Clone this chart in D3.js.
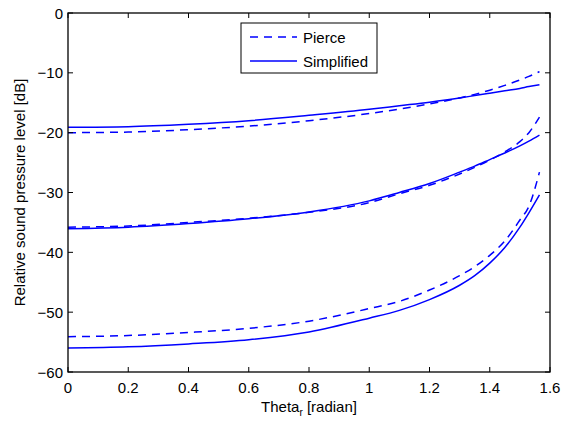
<!DOCTYPE html>
<html lang="en">
<head>
  <meta charset="UTF-8">
  <title>Relative sound pressure level</title>
  <style>
    body { margin: 0; padding: 0; background: #fff; }
    svg { display: block; }
    text { font-family: "Liberation Sans", Arial, sans-serif; fill: #000; }
    .curve { fill: none; stroke: #0000ff; stroke-width: 1.5px; }
    .dashed { stroke-dasharray: 8,6; }
  </style>
</head>
<body>
  <div id="chart"></div>

  <script src="https://d3js.org/d3.v7.min.js"></script>
  <script>
    // angle values (radian)
    var theta = [0, 0.2, 0.4, 0.6, 0.8, 1.0, 1.1, 1.2, 1.3, 1.35, 1.4, 1.45, 1.5, 1.53, 1.565];

    // Pierce (dashed)
    var pierceTop = [-20.0, -19.9, -19.5, -18.9, -18.0, -16.8, -16.05, -15.2, -14.2, -13.6, -12.9, -12.1, -11.2, -10.6, -9.8];
    var pierceMid = [-35.8, -35.6, -35.0, -34.3, -33.3, -31.7, -30.2, -28.8, -26.9, -25.8, -24.6, -23.2, -21.5, -20.0, -17.4];
    var pierceLow = [-54.1, -53.9, -53.4, -52.7, -51.5, -49.4, -48.2, -46.3, -43.9, -42.4, -40.5, -38.1, -34.6, -32.3, -26.6];

    // Simplified (solid)
    var simpTop = [-19.1, -19.0, -18.6, -18.0, -17.1, -16.1, -15.5, -14.9, -14.2, -13.8, -13.4, -13.0, -12.6, -12.3, -12.0];
    var simpMid = [-36.05, -35.8, -35.2, -34.4, -33.25, -31.4, -30.0, -28.5, -26.6, -25.6, -24.5, -23.4, -22.2, -21.4, -20.4];
    var simpLow = [-56.0, -55.8, -55.3, -54.6, -53.3, -51.0, -49.7, -47.9, -45.5, -43.9, -41.8, -39.2, -35.8, -33.4, -30.4];

    var xTicks = [0, 0.2, 0.4, 0.6, 0.8, 1, 1.2, 1.4, 1.6];
    var yTicks = [0, -10, -20, -30, -40, -50, -60];

    var width = 563, height = 421;
    var margin = { left: 68, right: 13, top: 13, bottom: 49 };

    var svg = d3.select("#chart").append("svg")
      .attr("width", width)
      .attr("height", height);

    var x = d3.scaleLinear().domain([0, 1.6]).range([margin.left, width - margin.right]);
    var y = d3.scaleLinear().domain([-60, 0]).range([height - margin.bottom, margin.top]);

    var line = d3.line()
      .x(function(d) { return x(d[0]); })
      .y(function(d) { return y(d[1]); })
      .curve(d3.curveMonotoneX);

    function pairs(vals) {
      return theta.map(function(t, i) { return [t, vals[i]]; });
    }

    // curves
    [pierceTop, pierceMid, pierceLow].forEach(function(s) {
      svg.append("path").attr("class", "curve dashed").attr("d", line(pairs(s)));
    });
    [simpTop, simpMid, simpLow].forEach(function(s) {
      svg.append("path").attr("class", "curve").attr("d", line(pairs(s)));
    });

    // ticks inside the box, on all four sides
    var tl = 5;
    var x0 = x.range()[0], x1 = x.range()[1], y0 = y.range()[0], y1 = y.range()[1];

    var xAxis = svg.append("g").attr("class", "x-axis");
    xTicks.forEach(function(t) {
      xAxis.append("line").attr("x1", x(t)).attr("x2", x(t)).attr("y1", y0).attr("y2", y0 - tl).attr("stroke", "#000");
      xAxis.append("line").attr("x1", x(t)).attr("x2", x(t)).attr("y1", y1).attr("y2", y1 + tl).attr("stroke", "#000");
      xAxis.append("text")
        .attr("x", x(t)).attr("y", y0 + 21)
        .attr("text-anchor", "middle")
        .style("font-size", "15px")
        .text(d3.format("")(t));
    });

    var yAxis = svg.append("g").attr("class", "y-axis");
    yTicks.forEach(function(t) {
      yAxis.append("line").attr("x1", x0).attr("x2", x0 + tl).attr("y1", y(t)).attr("y2", y(t)).attr("stroke", "#000");
      yAxis.append("line").attr("x1", x1).attr("x2", x1 - tl).attr("y1", y(t)).attr("y2", y(t)).attr("stroke", "#000");
      yAxis.append("text")
        .attr("x", x0 - 5).attr("y", y(t) + 5.5)
        .attr("text-anchor", "end")
        .style("font-size", "15px")
        .text(t < 0 ? "\u2212" + Math.abs(t) : t);
    });

    // box
    svg.append("rect")
      .attr("x", x0).attr("y", y1)
      .attr("width", x1 - x0).attr("height", y0 - y1)
      .attr("fill", "none").attr("stroke", "#000").attr("stroke-width", 1.3);

    // axis labels
    var xl = svg.append("text")
      .attr("x", (x0 + x1) / 2).attr("y", height - 9)
      .attr("text-anchor", "middle")
      .style("font-size", "15px");
    xl.append("tspan").text("Theta");
    xl.append("tspan").attr("dy", 4).style("font-size", "10px").text("r");
    xl.append("tspan").attr("dy", -4).text(" [radian]");

    svg.append("text")
      .attr("transform", "translate(25," + ((y0 + y1) / 2) + ")rotate(-90)")
      .attr("text-anchor", "middle")
      .style("font-size", "15px")
      .text("Relative sound pressure level [dB]");

    // legend
    var legend = svg.append("g");
    legend.append("rect")
      .attr("x", 241).attr("y", 23).attr("width", 136).attr("height", 50)
      .attr("fill", "#fff").attr("stroke", "#000").attr("stroke-width", 1);
    var items = [["Pierce", true], ["Simplified", false]];
    items.forEach(function(it, i) {
      var ly = 37 + i * 24;
      legend.append("line")
        .attr("class", "curve" + (it[1] ? " dashed" : ""))
        .attr("x1", 250).attr("x2", 297).attr("y1", ly).attr("y2", ly);
      legend.append("text")
        .attr("x", 303).attr("y", ly + 5.5)
        .style("font-size", "15px")
        .text(it[0]);
    });
  </script>
</body>
</html>
